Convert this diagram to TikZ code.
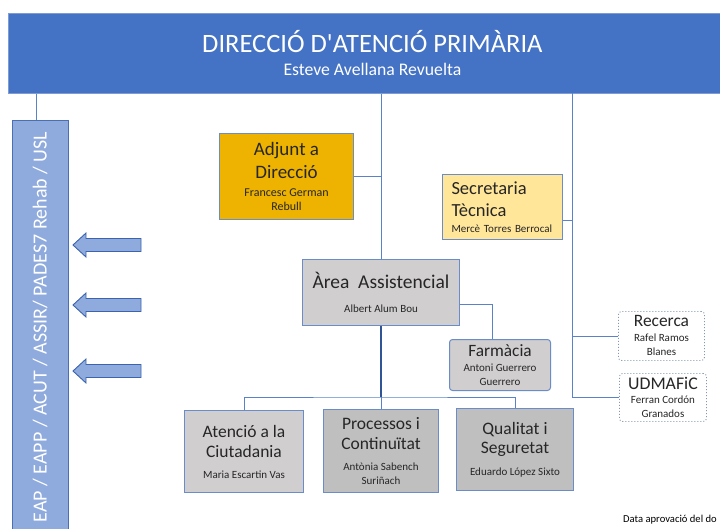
\documentclass[tikz,border=0pt]{standalone}
\usepackage{fontspec}
\setmainfont{Carlito}
\font\aposfont="Carlito" at 26.5pt
\definecolor{bannerblue}{HTML}{4472C4}
\definecolor{bannerborder}{HTML}{7F9BD3}
\definecolor{barfill}{HTML}{8FAADC}
\definecolor{barborder}{HTML}{4A6FB5}
\definecolor{arrowborder}{HTML}{3C64AE}
\definecolor{goldfill}{HTML}{EDB300}
\definecolor{secfill}{HTML}{FFE699}
\definecolor{greyA}{HTML}{D0CECE}
\definecolor{greyB}{HTML}{BFBFBF}
\definecolor{boxblue}{HTML}{6A8CC9}
\definecolor{lineblue}{HTML}{5B82C9}
\definecolor{darkline}{HTML}{2F5597}
\definecolor{dotblue}{HTML}{8497B0}
\definecolor{txt}{HTML}{262626}
\newcommand{\myfs}[1]{\fontsize{#1}{24}\selectfont}
\begin{document}
\begin{tikzpicture}[x=1pt,y=-1pt,
  box/.style={draw=boxblue, line width=1pt, anchor=north west, align=center,
    inner sep=0pt, text=txt, font=\fontsize{11}{24}\selectfont},
  dotbox/.style={box, draw=dotblue, dotted, line width=0.9pt, rounded corners=3pt, fill=white},
  conn/.style={draw=lineblue, line width=0.9pt},
  thickconn/.style={draw=darkline, line width=1.8pt},
  blockarrow/.style={fill=barfill, draw=arrowborder, line width=0.9pt}
]
\useasboundingbox (0,0) rectangle (720,528);
\clip (0,0) rectangle (720,528);

% banner
\node[fill=bannerblue, draw=bannerborder, line width=0.8pt, anchor=north west,
  minimum width=728pt, minimum height=80pt, inner sep=0pt, align=center, text=white,
  font=\fontsize{17.7}{24}\selectfont] (dir) at (8,13)
  {{\myfs{26.5}DIRECCIÓ D{\aposfont '}ATENCIÓ PRIMÀRIA}\\[-1pt]Esteve Avellana Revuelta};

% left bar
\node[fill=barfill, draw=barborder, line width=1pt, rotate=90,
  minimum width=414pt, minimum height=56pt, inner sep=0pt, text=white,
  font=\fontsize{20}{24}\selectfont] (bar) at (40,327)
  {EAP / EAPP / ACUT / ASSIR/ PADES7 Rehab / USL};

% block arrows
\foreach \c in {245,305,371}{
  \draw[blockarrow] (73,\c) -- (86,\c-12) -- (86,\c-6.5) -- (141,\c-6.5)
    -- (141,\c+6.5) -- (86,\c+6.5) -- (86,\c+12) -- cycle;
}

% boxes
\node[box, fill=goldfill, minimum width=134pt, minimum height=86pt,
  font=\fontsize{12}{24}\selectfont] (adj) at (219,133)
  {{\myfs{19}Adjunt a}\\[-1pt]{\myfs{19}Direcció}\\[-6pt]Francesc German\\[-10pt]Rebull};

\node[box, fill=secfill, minimum width=120pt, minimum height=65pt, align=left,
  text width=102pt] (sec) at (442,174)
  {{\myfs{18.5}Secretaria}\\[-2pt]{\myfs{18.5}Tècnica}\\[-8.5pt]Mercè Torres Berrocal};

\node[box, fill=greyA, minimum width=157pt, minimum height=66pt] (area) at (302,259)
  {{\myfs{19.5}Àrea\ \ Assistencial}\\[-0.5pt]Albert Alum Bou};

\node[box, fill=greyA, rounded corners=3pt, minimum width=101pt, minimum height=51pt] (farm) at (449,339)
  {{\myfs{17.3}Farmàcia}\\[-9pt]Antoni Guerrero\\[-10pt]Guerrero};

\node[dotbox, minimum width=86pt, minimum height=49pt] (rec) at (618,311)
  {{\myfs{17.4}Recerca}\\[-9pt]Rafel Ramos\\[-10pt]Blanes};

\node[dotbox, minimum width=87pt, minimum height=48pt] (udm) at (619,373)
  {{\myfs{17.8}UDMAFiC}\\[-10pt]Ferran Cordón\\[-10pt]Granados};

\node[box, fill=greyA, minimum width=119pt, minimum height=82pt] (aten) at (184,410)
  {{\myfs{17.5}Atenció a la}\\[-4pt]{\myfs{17.5}Ciutadania}\\[-3pt]Maria Escartin Vas};

\node[box, fill=greyB, minimum width=115pt, minimum height=83pt] (proc) at (323,409)
  {{\myfs{17.5}Processos i}\\[-4pt]{\myfs{17.5}Continuïtat}\\[-3pt]Antònia Sabench\\[-10.5pt]Suriñach};

\node[box, fill=greyB, minimum width=117pt, minimum height=82pt] (qual) at (456,408)
  {{\myfs{17.5}Qualitat i}\\[-5pt]{\myfs{17.5}Seguretat}\\[-2pt]Eduardo López Sixto};

\node[anchor=base west, inner sep=0pt, text=black, font=\fontsize{10.6}{12}\selectfont] (data) at (623,522)
  {Data aprovació del do};

% connectors
\coordinate (rtop) at (572,93);
\coordinate (jn) at (381,397);
\draw[conn] ([xshift=-4pt]bar.east) -- ([xshift=-4pt]bar.east |- dir.south);
\draw[conn] (area.north) -- (area.north |- dir.south);
\draw[conn] (adj.east) -- (adj.east -| area.north);
\draw[conn] (rtop) |- (udm.west);
\draw[conn] (rec.west) -- (rec.west -| rtop);
\draw[conn] ([yshift=-13pt]sec.east) -- ([yshift=-13pt]sec.east -| rtop);
\draw[conn] ([yshift=-12pt]area.east) -| ([xshift=-7.5pt]farm.north);
\draw[conn] (aten.north) |- (jn) -| (qual.north);
\draw[conn] (proc.north) -- (proc.north |- jn);
\draw[thickconn] (area.south) -- (area.south |- jn);
\end{tikzpicture}
\end{document}
